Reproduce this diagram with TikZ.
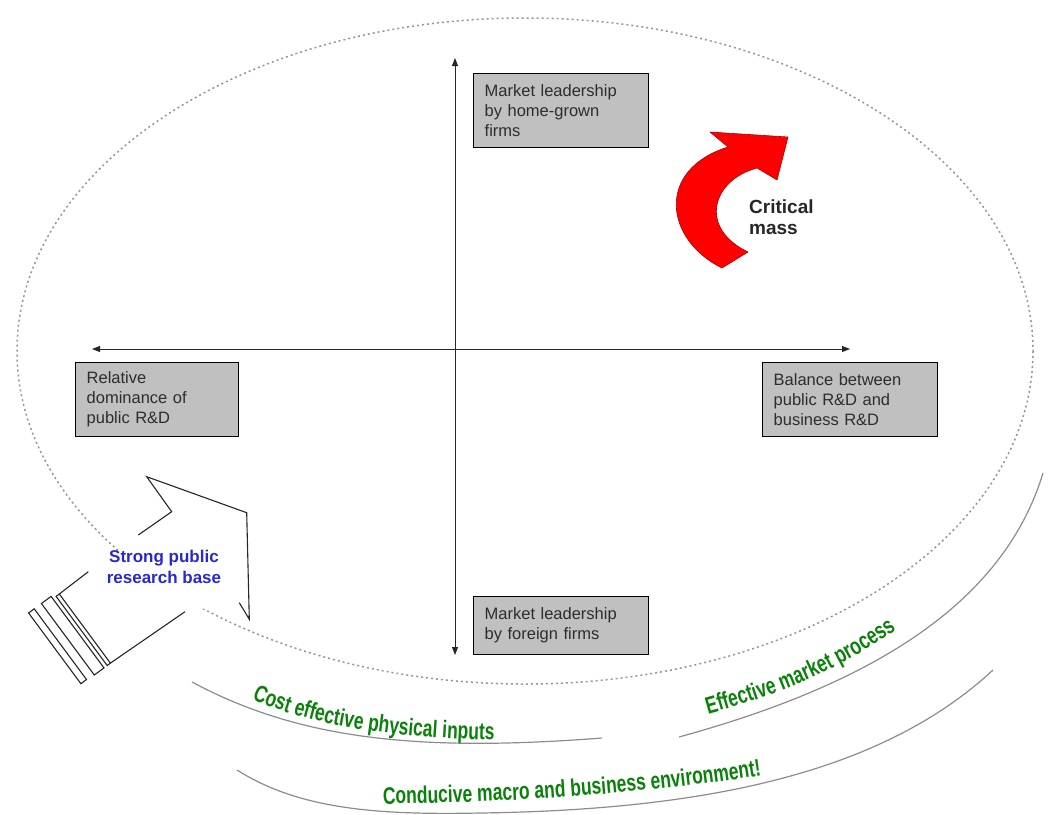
\documentclass[tikz,border=0pt]{standalone}
\usepackage{fontspec}
\setmainfont{Liberation Sans}
\newfontfamily\greenfont[FakeStretch=0.73]{Liberation Sans}
\usetikzlibrary{arrows.meta,decorations.text}

\definecolor{boxgray}{RGB}{192,192,192}
\definecolor{boxtext}{RGB}{45,45,45}
\definecolor{dotgray}{RGB}{150,150,150}
\definecolor{arcgray}{RGB}{140,140,140}
\definecolor{envgreen}{RGB}{10,130,10}
\definecolor{baseblue}{RGB}{40,40,205}
\definecolor{massred}{RGB}{255,0,0}
\definecolor{massedge}{RGB}{170,0,0}

\begin{document}
\begin{tikzpicture}[x=1pt,y=-1pt,
  quadbox/.style={draw=black,line width=1.4pt,fill=boxgray,text=boxtext,
    anchor=north west,align=left,inner xsep=11pt,inner ysep=0pt,
    font=\fontsize{16.5}{20}\selectfont},
  axis/.style={black!85,line width=0.9pt,
    {Triangle[length=8pt,width=6pt]}-{Triangle[length=8pt,width=6pt]}},
  outline/.style={black!85,line width=1.1pt,line join=miter},
  field/.style={dotgray,line width=1.5pt,dash pattern=on 2pt off 3pt},
  band/.style={arcgray,line width=1.2pt},
  greentext/.style={decorate,decoration={text along path,
    text format delimiters={|}{|},text align=left,
    text={|\greenfont\bfseries\fontsize{24}{26}\selectfont\color{envgreen}|#1}}}
]
\useasboundingbox (0,0) rectangle (1051,814);

% dotted boundary of the innovation system
\draw[field] (525,351) ellipse [x radius=508, y radius=333];

% axes
\coordinate (ytop) at (455,58);
\coordinate (ybot) at (455,655);
\coordinate (xleft) at (92,349);
\coordinate (xright) at (850,349);
\draw[axis] (ybot) -- (ytop);
\draw[axis] (xleft) -- (xright);

% quadrant labels
\node[quadbox,text width=153pt,minimum height=74pt] (homegrown) at (473,73)
  {Market leadership\\by home-grown\\firms};
\node[quadbox,text width=141pt,minimum height=74pt] (publicrd) at (75,362)
  {Relative\\dominance of\\public R\&D};
\node[quadbox,text width=153pt,minimum height=74pt] (balance) at (762,362)
  {Balance between\\public R\&D and\\business R\&D};
\node[quadbox,text width=153pt,minimum height=58pt] (foreign) at (473,596)
  {Market leadership\\by foreign firms};

% red curved arrow
\filldraw[fill=massred,draw=massedge,line width=0.6pt,line join=round]
  (788,137) -- (777,180) -- (757,168)
  .. controls (712,180) and (698,228) .. (748,252)
  -- (722,268)
  .. controls (665,240) and (655,170) .. (728,147)
  -- (710,132) -- cycle;
\node[anchor=west,align=left,font=\bfseries\fontsize{19}{21}\selectfont,
  text=black!85,inner sep=0pt] (mass) at (749,217) {Critical\\mass};

% hollow block arrow entering the system
\fill[white] (59.3,594) -- (171.7,511.7) -- (146.7,476.7) -- (246.7,512.7)
  -- (249.3,619.3) -- (239.3,602.7) -- (185,611.7) -- (110.4,663.1) -- cycle;
\draw[outline] (59.3,594) -- (88.3,571.7);
\draw[outline] (138.3,535) -- (171.7,511.7) -- (146.7,476.7) -- (246.7,512.7)
  -- (249.3,619.3) -- (239.3,602.7);
\draw[outline] (185,611.7) -- (110.4,663.1);
\draw[outline] (56.1,596.4) -- (107.2,665.5) -- (110.4,663.1) -- (59.3,594) -- cycle;
\draw[outline] (41.4,603.5) -- (94.3,675) -- (104,667.9) -- (51.1,596.4) -- cycle;
\draw[outline] (28.6,613) -- (80.9,683.7) -- (86.5,679.5) -- (34.2,608.8) -- cycle;
\node[align=center,font=\bfseries\fontsize{17}{21}\selectfont,text=baseblue,
  inner sep=1pt] (base) at (164,567) {Strong public\\research base};

% framework conditions around the system
\draw[band] (192,682) .. controls (300,740) and (420,752) .. (602,738);
\draw[band] (679,737) .. controls (850,690) and (1000,615) .. (1043,473);
\draw[band] (237,770) .. controls (300,810) and (380,815) .. (480,813)
  .. controls (700,810) and (880,775) .. (993,670);

\path[greentext={Cost effective physical inputs}]
  (252,699) .. controls (320,730) and (420,742) .. (560,740);
\path[greentext={Effective market process}]
  (708,714) .. controls (780,694) and (850,670) .. (935,600);
\path[greentext={Conducive macro and business environment!}]
  (383,804) .. controls (500,802) and (650,797) .. (830,764);
\end{tikzpicture}
\end{document}
